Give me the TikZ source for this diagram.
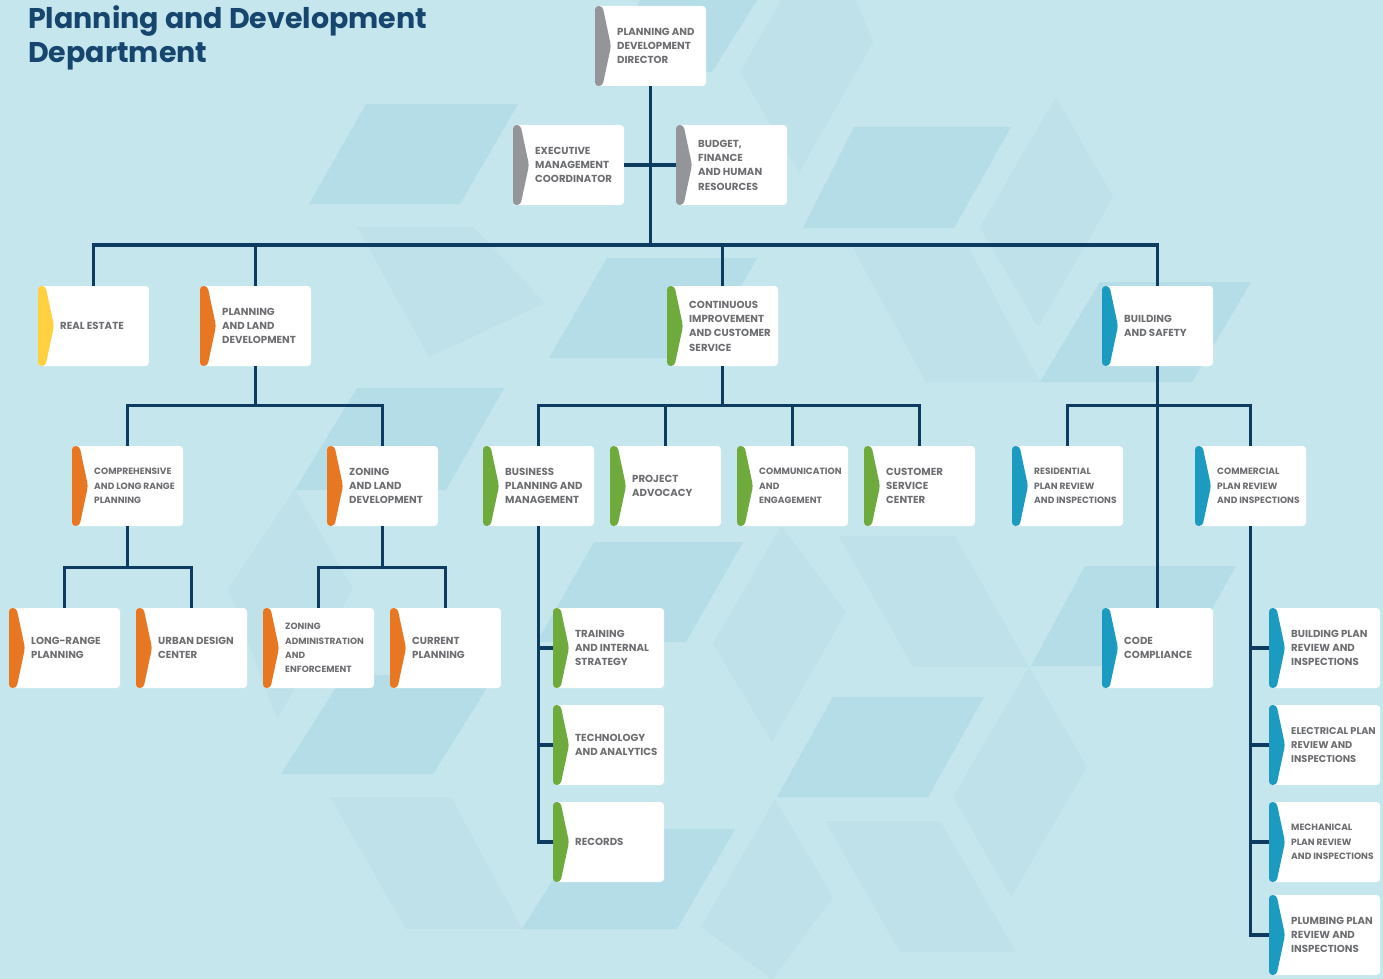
\documentclass[tikz,border=0pt]{standalone}
\usepackage{fontspec}
\setmainfont{Poppins}
\definecolor{bg}{RGB}{197,230,237}
\definecolor{shd}{RGB}{180,221,232}
\definecolor{shm}{RGB}{190,225,234}
\definecolor{navy}{RGB}{14,60,97}
\definecolor{ttl}{RGB}{22,70,110}
\definecolor{txt}{RGB}{109,110,113}
\definecolor{cgray}{RGB}{147,149,152}
\definecolor{cyel}{RGB}{255,209,64}
\definecolor{corg}{RGB}{232,119,34}
\definecolor{cgrn}{RGB}{110,170,60}
\definecolor{cblu}{RGB}{27,155,192}
\tikzset{
  conn/.style={draw=navy, line width=3.2pt},
  obx/.style={fill=white, rounded corners=3.5pt, minimum width=111pt, minimum height=80pt, inner sep=0pt,
    path picture={\fill[#1] (path picture bounding box.north west) -- ++(7.5pt,0pt)
      -- ([xshift=16pt]path picture bounding box.west)
      -- ([xshift=7.5pt]path picture bounding box.south west)
      -- (path picture bounding box.south west) -- cycle;}},
  otx/.style={anchor=west, align=left, inner sep=0pt, text=txt, font=\bfseries\fontsize{#1}{14.3}\selectfont},
  ttx/.style={anchor=base west, inner sep=0pt, text=ttl, font=\bfseries\fontsize{28.5}{34}\selectfont},
}
\newcommand\obox[6][10.2]{%
  \node[obx=#5] (#2) at (#3+55.5,#4+40) {};
  \node[otx=#1] (#2t) at (#3+22,#4+40) {#6};
}
\begin{document}
\begin{tikzpicture}[x=1pt,y=-1pt]
\fill[bg] (0,0) rectangle (1383,979);
\useasboundingbox (0,0) rectangle (1383,979);
% background pattern
\fill[shd] (366,104) -- (518,104) -- (460,204) -- (309,204) -- cycle;
\fill[shd] (854,127) -- (1011,127) -- (954,228) -- (803,228) -- cycle;
\fill[shd] (607,258) -- (757,258) -- (700,358) -- (549,358) -- cycle;
\fill[shd] (357,388) -- (504,388) -- (446,490) -- (295,490) -- cycle;
\fill[shd] (344,675) -- (495,675) -- (433,774) -- (281,774) -- cycle;
\fill[shd] (585,829) -- (735,829) -- (677,929) -- (522,929) -- cycle;
\fill[shd] (594,542) -- (743,542) -- (686,642) -- (537,642) -- cycle;
\fill[shd] (1100,282) -- (1251,282) -- (1192,382) -- (1040,382) -- cycle;
\fill[shd] (1085,566) -- (1236,566) -- (1180,666) -- (1031,666) -- cycle;
\fill[shd] (833,697) -- (984,697) -- (928,797) -- (777,797) -- cycle;
\fill[shd] (640,0) -- (757,0) -- (712,72) -- (610,72) -- cycle;
\fill[shm] (781,0) -- (856,0) -- (873,42) -- (799,173) -- (740,72) -- cycle;
\fill[shm] (1056,97) -- (1113,197) -- (1038,327) -- (980,227) -- cycle;
\fill[shm] (853,248) -- (969,248) -- (1040,382) -- (926,382) -- cycle;
\fill[shm] (839,536) -- (955,536) -- (1029,667) -- (913,667) -- cycle;
\fill[shm] (825,821) -- (940,821) -- (1016,952) -- (900,952) -- cycle;
\fill[shm] (330,797) -- (451,797) -- (522,929) -- (406,929) -- cycle;
\fill[shm] (1029,667) -- (1087,767) -- (1011,897) -- (953,797) -- cycle;
\fill[shm] (781,526) -- (846,612) -- (772,742) -- (713,644) -- cycle;
\fill[shm] (775,799) -- (833,897) -- (772,979) -- (701,927) -- cycle;
\fill[shm] (295,489) -- (353,589) -- (277,719) -- (228,589) -- cycle;
\fill[shm] (357,227) -- (473,227) -- (545,303) -- (429,357) -- cycle;
% title
\node[ttx] (title1) at (28,29) {Planning and Development};
\node[ttx] (title2) at (28,63) {Department};
% boxes
\obox{dir}{595}{6}{cgray}{PLANNING AND\\DEVELOPMENT\\DIRECTOR}
\obox{emc}{513}{125}{cgray}{EXECUTIVE\\MANAGEMENT\\COORDINATOR}
\obox{bud}{676}{125}{cgray}{BUDGET,\\FINANCE\\AND HUMAN\\RESOURCES}
\obox{re}{38}{286}{cyel}{REAL ESTATE}
\obox{pld}{200}{286}{corg}{PLANNING\\AND LAND\\DEVELOPMENT}
\obox{ci}{667}{286}{cgrn}{CONTINUOUS\\IMPROVEMENT\\AND CUSTOMER\\SERVICE}
\obox{bs}{1102}{286}{cblu}{BUILDING\\AND SAFETY}
\obox[9.1]{clr}{72}{446}{corg}{COMPREHENSIVE\\AND LONG RANGE\\PLANNING}
\obox{zld}{327}{446}{corg}{ZONING\\AND LAND\\DEVELOPMENT}
\obox{bpm}{483}{446}{cgrn}{BUSINESS\\PLANNING AND\\MANAGEMENT}
\obox{pa}{610}{446}{cgrn}{PROJECT\\ADVOCACY}
\obox[9.1]{ce}{737}{446}{cgrn}{COMMUNICATION\\AND\\ENGAGEMENT}
\obox{csc}{864}{446}{cgrn}{CUSTOMER\\SERVICE\\CENTER}
\obox[9.1]{rpr}{1012}{446}{cblu}{RESIDENTIAL\\PLAN REVIEW\\AND INSPECTIONS}
\obox[9.1]{cpr}{1195}{446}{cblu}{COMMERCIAL\\PLAN REVIEW\\AND INSPECTIONS}
\obox{lrp}{9}{608}{corg}{LONG-RANGE\\PLANNING}
\obox{udc}{136}{608}{corg}{URBAN DESIGN\\CENTER}
\obox[9]{zae}{263}{608}{corg}{ZONING\\ADMINISTRATION\\AND\\ENFORCEMENT}
\obox{cp}{390}{608}{corg}{CURRENT\\PLANNING}
\obox{tis}{553}{608}{cgrn}{TRAINING\\AND INTERNAL\\STRATEGY}
\obox{ta}{553}{705}{cgrn}{TECHNOLOGY\\AND ANALYTICS}
\obox{rec}{553}{802}{cgrn}{RECORDS}
\obox{cc}{1102}{608}{cblu}{CODE\\COMPLIANCE}
\obox{bpr}{1269}{608}{cblu}{BUILDING PLAN\\REVIEW AND\\INSPECTIONS}
\obox[9.8]{epr}{1269}{705}{cblu}{ELECTRICAL PLAN\\REVIEW AND\\INSPECTIONS}
\obox[9.1]{mpr}{1269}{802}{cblu}{MECHANICAL\\PLAN REVIEW\\AND INSPECTIONS}
\obox{ppr}{1269}{895}{cblu}{PLUMBING PLAN\\REVIEW AND\\INSPECTIONS}
% connectors
\coordinate (bus1) at (650.5,245);
\draw[conn] (dir.south) -- (bus1);
\draw[conn] (emc.east) -- (bud.west);
\draw[conn] (re.north) |- (bs.north |- bus1) -- (bs.north);
\draw[conn] (pld.north) -- (pld.north |- bus1);
\draw[conn] (ci.north) -- (ci.north |- bus1);
\draw[conn] (pld.south) -- ++(0,40);
\draw[conn] (clr.north) -- ++(0,-40) -| (zld.north);
\draw[conn] (clr.south) -- ++(0,42);
\draw[conn] (lrp.north) -- ++(0,-40) -| (udc.north);
\draw[conn] (zld.south) -- ++(0,42);
\draw[conn] (zae.north) -- ++(0,-40) -| (cp.north);
\draw[conn] (ci.south) -- ++(0,40);
\draw[conn] (bpm.north) -- ++(0,-40) -| (csc.north);
\draw[conn] (pa.north) -- ++(0,-40);
\draw[conn] (ce.north) -- ++(0,-40);
\draw[conn] (bpm.south) |- (rec.west);
\draw[conn] (tis.west) -- (tis.west -| bpm.south);
\draw[conn] (ta.west) -- (ta.west -| bpm.south);
\draw[conn] (bs.south) -- (cc.north);
\draw[conn] (rpr.north) -- ++(0,-40) -| (cpr.north);
\draw[conn] (cpr.south) |- (ppr.west);
\draw[conn] (bpr.west) -- (bpr.west -| cpr.south);
\draw[conn] (epr.west) -- (epr.west -| cpr.south);
\draw[conn] (mpr.west) -- (mpr.west -| cpr.south);
\end{tikzpicture}
\end{document}
